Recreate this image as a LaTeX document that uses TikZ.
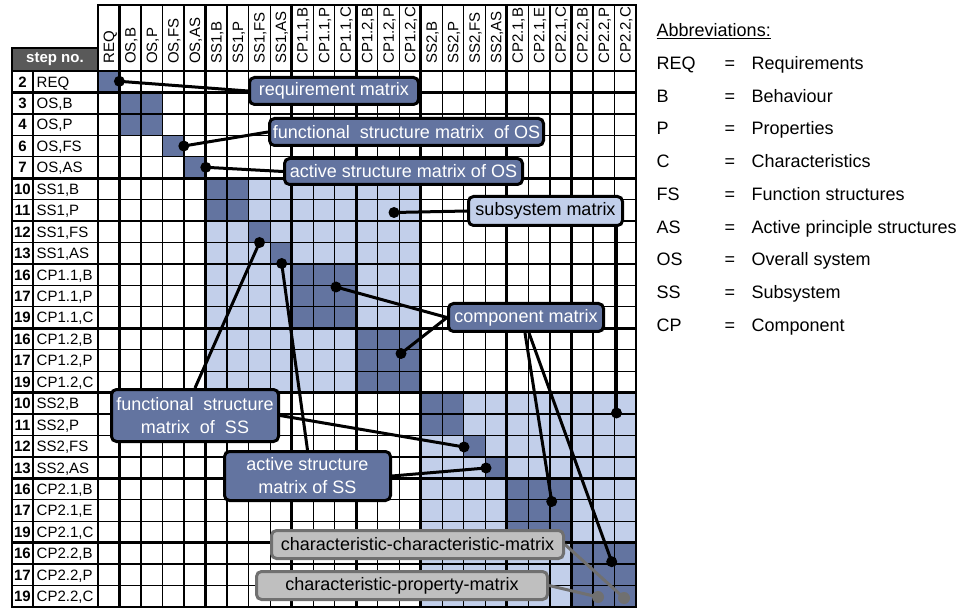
\documentclass[tikz,border=0pt]{standalone}
\usepackage{fontspec}
\setmainfont{Liberation Sans}
\definecolor{dk}{RGB}{99,116,160}
\definecolor{lt}{RGB}{194,207,234}
\definecolor{gbox}{RGB}{191,191,191}
\definecolor{gline}{RGB}{112,112,112}
\definecolor{hdr}{RGB}{89,89,89}
\newcommand{\rowfont}{\fontsize{15}{18}\selectfont}
\newcommand{\boxfont}{\fontsize{18}{23}\selectfont}
\newcommand{\blk}[5]{\fill[#5] ({98+(#1-1)*21.52},{71+(#2-1)*21.44}) rectangle ({98+#3*21.52},{71+#4*21.44});}
\pgfdeclarelayer{gridlayer}
\pgfdeclarelayer{linklayer}
\pgfsetlayers{gridlayer,linklayer,main}
\begin{document}
\begin{tikzpicture}[x=1pt,y=-1pt,
  thingrid/.style={line width=1.3pt},
  thickgrid/.style={line width=2.8pt, line cap=rect},
  callout/.style={draw=black, line width=3pt, rounded corners=5pt, inner sep=0pt, align=center, font=\boxfont},
  darkbox/.style={callout, fill=dk, text=white},
  lightbox/.style={callout, fill=lt, text=black},
  graybox/.style={callout, draw=gline, fill=gbox, text=black},
  conn/.style={line width=3pt},
  gconn/.style={line width=3pt, draw=gline},
  dot/.style={circle, fill=black, inner sep=0pt, minimum size=11pt},
  gdot/.style={circle, fill=gline, inner sep=0pt, minimum size=12pt},
  lbl/.style={inner sep=0pt, font=\rowfont},
  abb/.style={inner sep=0pt, font=\boxfont, anchor=base west},
]
\useasboundingbox (0,0) rectangle (958,609);

\begin{pgfonlayer}{gridlayer}
\fill[white] (0,0) rectangle (958,609);
% light blocks
\blk{6}{6}{15}{15}{lt}
\blk{16}{16}{25}{25}{lt}
% dark blocks
\blk{1}{1}{1}{1}{dk}
\blk{2}{2}{3}{3}{dk}
\blk{4}{4}{4}{4}{dk}
\blk{5}{5}{5}{5}{dk}
\blk{6}{6}{7}{7}{dk}
\blk{8}{8}{8}{8}{dk}
\blk{9}{9}{9}{9}{dk}
\blk{10}{10}{12}{12}{dk}
\blk{13}{13}{15}{15}{dk}
\blk{16}{16}{17}{17}{dk}
\blk{18}{18}{18}{18}{dk}
\blk{19}{19}{19}{19}{dk}
\blk{20}{20}{22}{22}{dk}
\blk{23}{23}{25}{25}{dk}
% step no. header
\fill[hdr] (12,48) rectangle (98,71);
% thin grid
\foreach \gi in {0,...,25} {
  \pgfmathsetmacro\xx{98+\gi*21.52}
  \draw[thingrid] (\xx,5) -- (\xx,607);
  \pgfmathsetmacro\yy{71+\gi*21.44}
  \draw[thingrid] (12,\yy) -- (636,\yy);
}
% thick grid
\foreach \gi in {0,1,5,9,12,15,19,22,25} {
  \pgfmathsetmacro\xx{98+\gi*21.52}
  \draw[thickgrid] (\xx,5) -- (\xx,607);
  \pgfmathsetmacro\yy{71+\gi*21.44}
  \draw[thickgrid] (12,\yy) -- (636,\yy);
}
\draw[thickgrid] (98,5) -- (636,5);
\draw[thickgrid] (12,48) -- (98,48);
\draw[thickgrid] (12,48) -- (12,607);
\draw[line width=2.2pt] (33,71) -- (33,607);
\end{pgfonlayer}

% step no. text
\node[font=\rowfont\bfseries, text=white, inner sep=0pt] (stepno) at (55,59.5) {step no.};

% column headers
\foreach \colL [count=\ci] in {REQ,{OS,B},{OS,P},{OS,FS},{OS,AS},{SS1,B},{SS1,P},{SS1,FS},{SS1,AS},{CP1.1,B},{CP1.1,P},{CP1.1,C},{CP1.2,B},{CP1.2,P},{CP1.2,C},{SS2,B},{SS2,P},{SS2,FS},{SS2,AS},{CP2.1,B},{CP2.1,E},{CP2.1,C},{CP2.2,B},{CP2.2,P},{CP2.2,C}} {
  \pgfmathsetmacro\xx{98+(\ci-0.5)*21.52+5.3}
  \node[lbl, rotate=90, anchor=base west] (c\ci) at (\xx,64) {\colL};
}

% row headers
\foreach \rowN/\rowL [count=\ri] in {2/REQ,3/{OS,B},4/{OS,P},6/{OS,FS},7/{OS,AS},10/{SS1,B},11/{SS1,P},12/{SS1,FS},13/{SS1,AS},16/{CP1.1,B},17/{CP1.1,P},19/{CP1.1,C},16/{CP1.2,B},17/{CP1.2,P},19/{CP1.2,C},10/{SS2,B},11/{SS2,P},12/{SS2,FS},13/{SS2,AS},16/{CP2.1,B},17/{CP2.1,E},19/{CP2.1,C},16/{CP2.2,B},17/{CP2.2,P},19/{CP2.2,C}} {
  \pgfmathsetmacro\yy{71+(\ri-0.5)*21.44+5.4}
  \node[lbl, font=\rowfont\bfseries, anchor=base] (n\ri) at (22.5,\yy) {\rowN};
  \node[lbl, anchor=base west] (r\ri) at (36.5,\yy) {\rowL};
}

% callouts
\node[darkbox, minimum width=169pt, minimum height=27pt] (req) at (334,91) {requirement matrix};
\node[darkbox, minimum width=274pt, minimum height=27pt] (fsOS) at (406.5,132) {functional~~structure matrix~~of OS};
\node[darkbox, minimum width=238pt, minimum height=26pt] (asOS) at (403.5,171.5) {active structure matrix of OS};
\node[lightbox, minimum width=154pt, minimum height=29pt] (subsys) at (545.5,211) {subsystem matrix};
\node[darkbox, minimum width=155pt, minimum height=28pt] (comp) at (526,317.5) {component matrix};
\node[darkbox, minimum width=167pt, minimum height=52pt] (fsSS) at (195,415.5) {functional~~structure\\matrix~~of~~SS};
\node[darkbox, minimum width=166pt, minimum height=49pt] (asSS) at (307.5,476) {active structure\\matrix of SS};
\node[graybox, minimum width=292pt, minimum height=28pt] (cc) at (417.5,544.5) {characteristic-characteristic-matrix};
\node[graybox, minimum width=291pt, minimum height=28pt] (cp) at (402,585.5) {characteristic-property-matrix};

\begin{pgfonlayer}{linklayer}
\coordinate (pReq) at (119.4,81.3);
\coordinate (pFsOS) at (183.8,146);
\coordinate (pAsOS) at (205.8,167.3);
\coordinate (pSub1) at (394,212.5);
\coordinate (pSub2) at (616.5,413);
\coordinate (pComp1) at (336,287);
\coordinate (pComp2) at (401,353.5);
\coordinate (pComp3) at (551.7,501.5);
\coordinate (pComp4) at (611.7,561.7);
\coordinate (pFsSS1) at (259.5,242.5);
\coordinate (pFsSS2) at (464,447);
\coordinate (pAsSS1) at (281.7,263.5);
\coordinate (pAsSS2) at (486,468);
\coordinate (pCC) at (624,598);
\coordinate (pCP) at (598,597);
\draw[conn] (pReq) -- (req.west);
\draw[conn] (pFsOS) -- (fsOS.west);
\draw[conn] (pAsOS) -- (asOS.west);
\draw[conn] (pSub1) -- (subsys.west);
\draw[conn] (pSub2) -- (pSub2 |- subsys.south);
\draw[conn] (pComp1) -- (comp.west);
\draw[conn] (pComp2) -- (comp.west);
\draw[conn] (pComp3) -- ([xshift=-1pt]comp.south);
\draw[conn] (pComp4) -- ([xshift=3pt]comp.south);
\draw[conn] (pFsSS1) -- (fsSS.north);
\draw[conn] (pFsSS2) -- (fsSS.east);
\draw[conn] (pAsSS1) -- (asSS.north);
\draw[conn] (pAsSS2) -- (asSS.east);
\draw[gconn] (pCC) -- (cc.east);
\draw[gconn] (pCP) -- (cp.east);
\node[dot] (dReq) at (pReq) {};
\node[dot] (dFsOS) at (pFsOS) {};
\node[dot] (dAsOS) at (pAsOS) {};
\node[dot] (dSub1) at (pSub1) {};
\node[dot] (dSub2) at (pSub2) {};
\node[dot] (dComp1) at (pComp1) {};
\node[dot] (dComp2) at (pComp2) {};
\node[dot] (dComp3) at (pComp3) {};
\node[dot] (dComp4) at (pComp4) {};
\node[dot] (dFsSS1) at (pFsSS1) {};
\node[dot] (dFsSS2) at (pFsSS2) {};
\node[dot] (dAsSS1) at (pAsSS1) {};
\node[dot] (dAsSS2) at (pAsSS2) {};
\node[gdot] (dCC) at (pCC) {};
\node[gdot] (dCP) at (pCP) {};
\end{pgfonlayer}

% abbreviations
\node[abb] (abbr) at (656.5,37) {\underline{Abbreviations:}};
\foreach \ab/\de [count=\k] in {REQ/Requirements,B/Behaviour,P/Properties,C/Characteristics,FS/Function structures,AS/Active principle structures,OS/Overall system,SS/Subsystem,CP/Component} {
  \pgfmathsetmacro\yy{69.5+(\k-1)*32.75}
  \node[abb] (a\k) at (656.5,\yy) {\ab};
  \node[abb] (e\k) at (724.5,\yy) {=};
  \node[abb] (d\k) at (751.5,\yy) {\de};
}
\end{tikzpicture}
\end{document}
